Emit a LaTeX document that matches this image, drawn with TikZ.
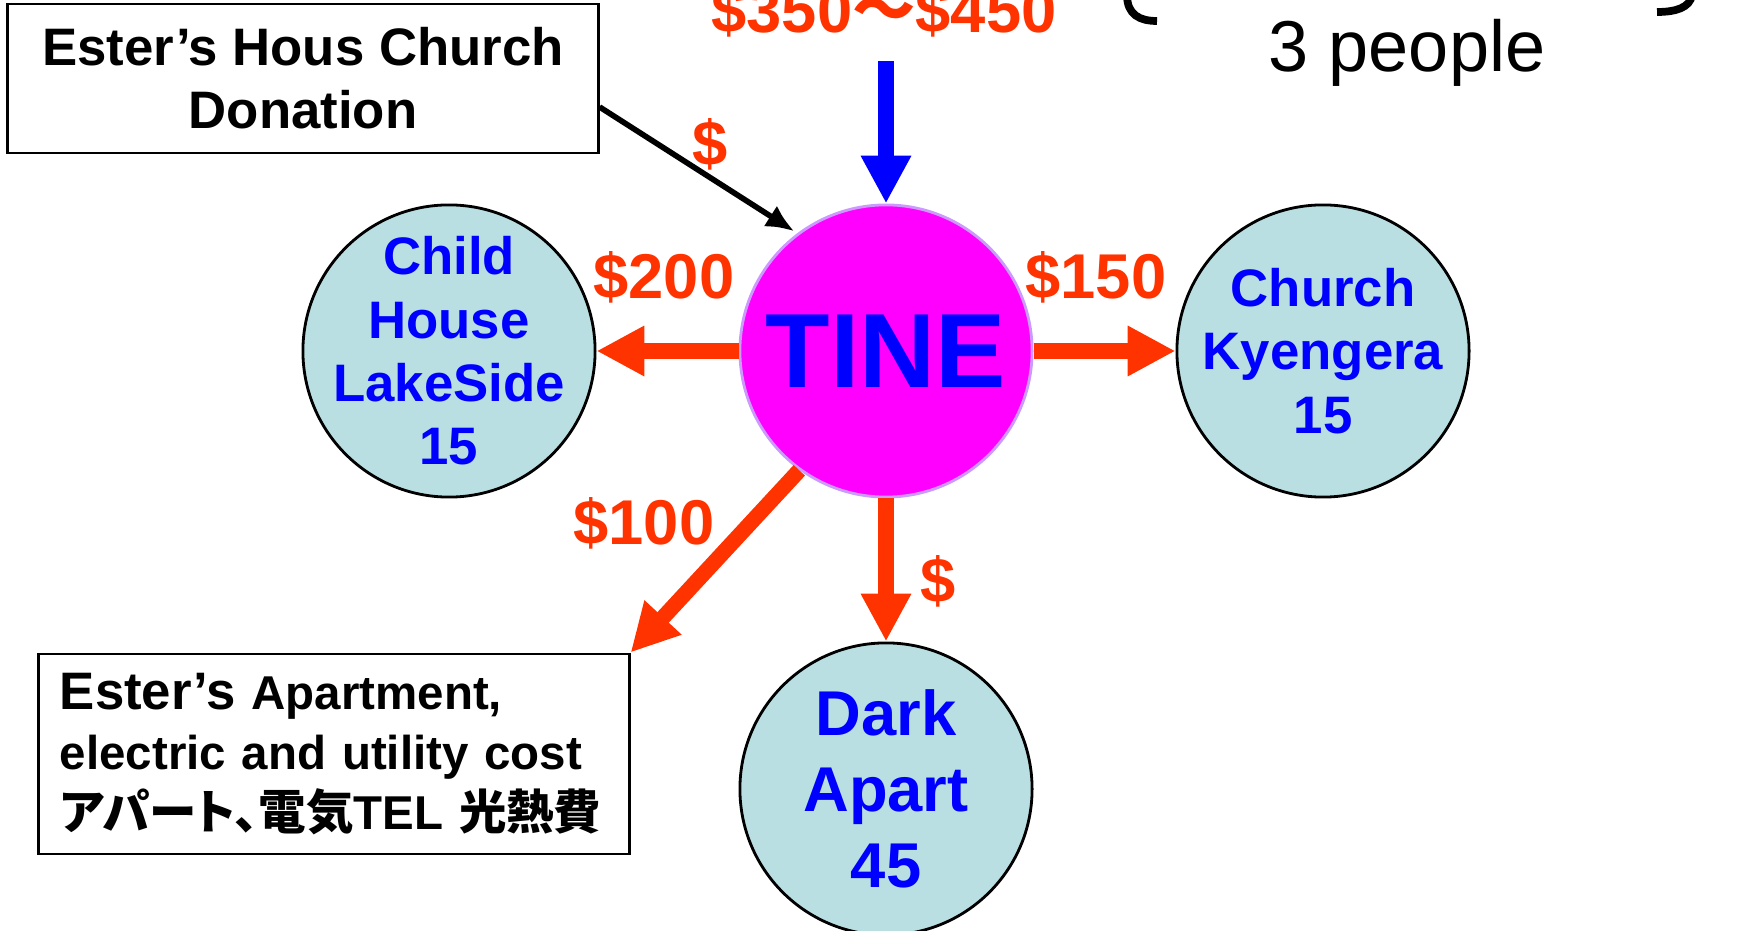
\documentclass[tikz,border=0pt]{standalone}
\usepackage{fontspec}
\setmainfont{Liberation Sans}
\newfontfamily\cjk[RawFeature=+palt]{Noto Sans CJK JP}
\usetikzlibrary{arrows.meta}
\usetikzlibrary{calc}
\definecolor{moneycolor}{HTML}{FF3300}
\definecolor{tinecolor}{HTML}{FF00FF}
\definecolor{ringcolor}{HTML}{CC99FF}
\definecolor{groupcolor}{HTML}{B9DFE2}
\definecolor{namecolor}{HTML}{0000FF}

\begin{document}
\begin{tikzpicture}[x=0.01cm,y=-0.01cm,
  group/.style={circle,draw=black,line width=0.8pt,fill=groupcolor,minimum size=2.92cm,inner sep=-14pt,
    align=center,text=namecolor,font=\fontsize{15}{18}\selectfont\bfseries},
  flow/.style={draw=moneycolor,line width=4.4pt,-{Triangle[length=13.6pt,width=13.4pt]}},
  money/.style={text=moneycolor,inner sep=0pt,font=\fontsize{18}{21.6}\selectfont\bfseries},
  notebox/.style={draw=black,line width=0.8pt,minimum width=5.9cm}]

  \useasboundingbox (0,0) rectangle (1740,931);

  % the fund in the middle and where it goes
  \node[circle,draw=ringcolor,line width=0.8pt,fill=tinecolor,minimum size=2.92cm,inner sep=0pt,
    text=namecolor,font=\fontsize{30}{36}\selectfont\bfseries] (tine) at (886,351) {TINE};
  \node[group] (child) at (449,351) {Child\\House\\LakeSide\\15};
  \node[group] (church) at (1323,351) {Church\\Kyengera\\15};
  \node[group,font=\fontsize{18}{21.7}\selectfont\bfseries] (dark) at (886,789) {Dark\\Apart\\45};

  \node[notebox,minimum height=1.49cm,align=center,font=\fontsize{15}{17.9}\selectfont\bfseries]
    (donbox) at (303,78.5) {Ester’s Hous Church\\Donation};
  \node[notebox,minimum height=2cm,text width=5.48cm,inner xsep=0.21cm,align=left,
    font=\fontsize{13.5}{17}\selectfont\bfseries] (aptbox) at (334,754)
    {{\fontsize{15}{17}\selectfont Ester’s} Apartment,\\electric and utility cost\\
     \mbox{{\cjk アパート、電気}TEL {\cjk 光熱費}}};

  % arrows
  \coordinate (feed) at (886,61);
  \draw[flow,draw=namecolor] (feed) -- (tine);
  \draw[black,line width=1.6pt,-{Latex[length=8pt,width=7pt]},shorten >=1pt]
    ([yshift=-8.1pt]donbox.east) -- (tine.127);
  \draw[flow] (tine) -- (child);
  \draw[flow] (tine) -- (church);
  \draw[flow] (tine) -- (dark);
  \draw[flow] (tine.234) -- (aptbox.north east);

  % amounts
  \node[money,anchor=base] (total) at (884,33) {\$350{\cjk ～}\$450};
  \node[money] (gift) at (710,144) {\$};
  \node[money] (tochild) at (664,277) {\$200};
  \node[money] (tochurch) at (1096,277) {\$150};
  \node[money] (toapt) at (644,523) {\$100};
  \node[money] (todark) at (938,581) {\$};

  \node[anchor=base,font=\fontsize{20.5}{24}\selectfont] (crew) at (1407,72) {3 people};
  \draw[line width=2.2pt] (1127,-5) .. controls (1127,15) and (1140,21) .. (1157,21);
  \draw[line width=2.2pt] (1657,12) .. controls (1675,12) and (1690,8) .. (1692,-5);
\end{tikzpicture}
\end{document}
